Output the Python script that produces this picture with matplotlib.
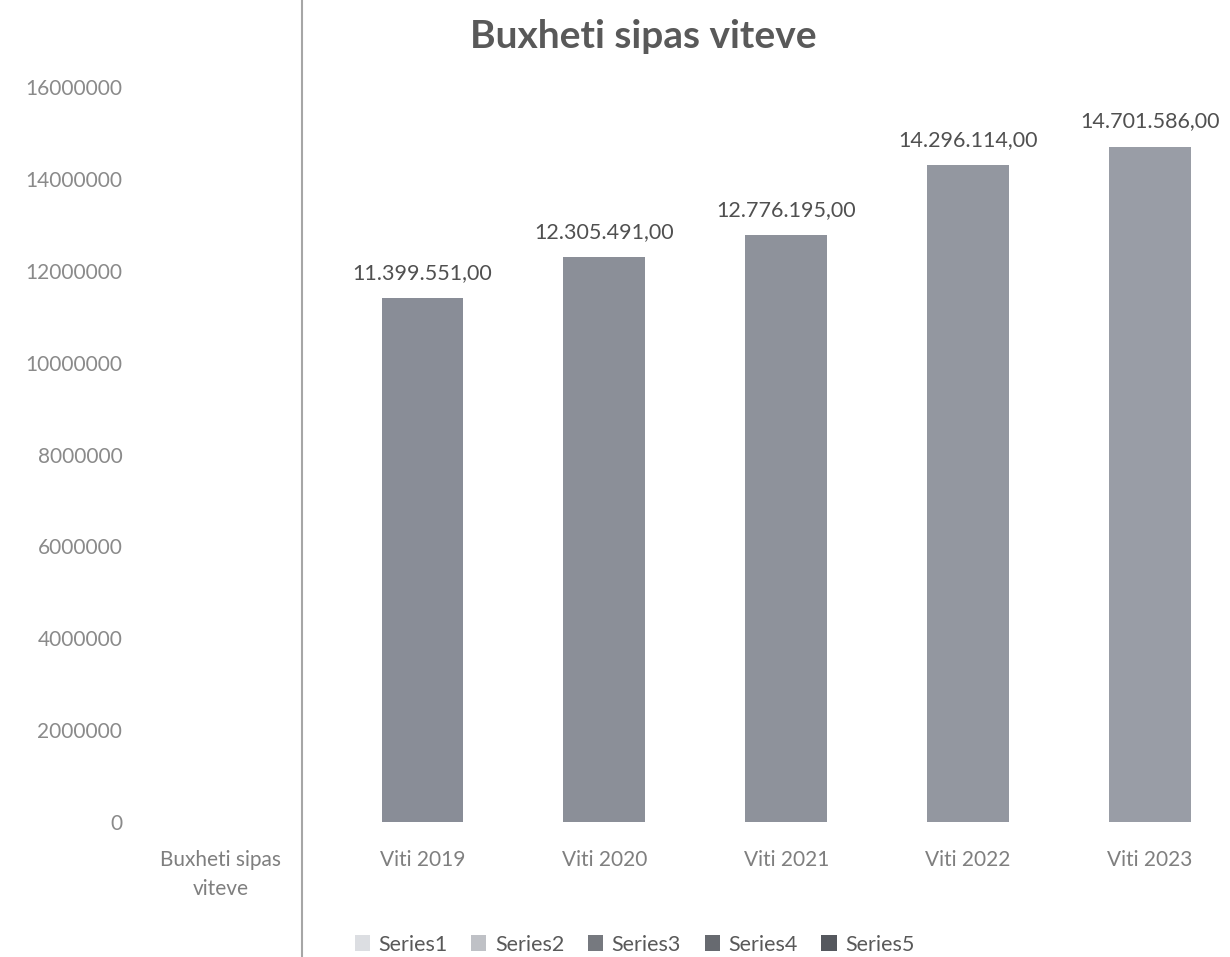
import matplotlib.pyplot as plt
import matplotlib.transforms as mtransforms
from matplotlib.patches import Patch
from matplotlib.lines import Line2D

# data
categories = ['Buxheti sipas\nviteve', 'Viti 2019', 'Viti 2020', 'Viti 2021', 'Viti 2022', 'Viti 2023']
series_names = ['Series1', 'Series2', 'Series3', 'Series4', 'Series5']
budget = [11399551, 12305491, 12776195, 14296114, 14701586]
yticks = [0, 2000000, 4000000, 6000000, 8000000, 10000000, 12000000, 14000000, 16000000]

bar_colors = ['#898d97', '#8b8f98', '#8e929b', '#9397a0', '#999da6']
legend_colors = ['#dcdee2', '#bfc1c6', '#76797f', '#676a70', '#55585e']

plt.rcParams['font.family'] = ['Lato', 'DejaVu Sans']

fig = plt.figure(figsize=(12.3, 9.57), dpi=100)
ax = fig.add_axes([0.104, 0.141, 0.896, 0.768])

# each series holds the budget of one year
for i, name in enumerate(series_names):
    ax.bar(i + 1, budget[i], width=0.45, color=bar_colors[i], label=name, zorder=2)
    lbl = '{:,.2f}'.format(budget[i]).replace(',', ' ').replace('.', ',').replace(' ', '.')
    ax.text(i + 1, budget[i] + 330000, lbl, ha='center', va='bottom',
            fontsize=15.5, color='#505050')

ax.set_xlim(-0.62, 5.44)
ax.set_ylim(0, 16000000)
ax.set_xticks(range(len(categories)))
ax.set_xticklabels(categories, fontsize=15, color='#7f7f7f', linespacing=1.55)
ax.set_yticks(yticks)
ax.set_yticklabels([str(v) for v in yticks], fontsize=15, color='#8a8a8a')
ax.tick_params(axis='x', length=0, pad=20)
ax.tick_params(axis='y', length=0, pad=4)
for spine in ['top', 'bottom', 'left', 'right']:
    ax.spines[spine].set_visible(False)

# first category label sits a bit to the left of the axis line
first = ax.get_xticklabels()[0]
first.set_transform(first.get_transform() + mtransforms.ScaledTranslation(-0.2, 0, fig.dpi_scale_trans))

# vertical axis line between the first two categories
fig.add_artist(Line2D([302 / 1230, 302 / 1230], [0, 1], color='#a6a6a6', linewidth=1.5))

fig.text(0.523, 0.962, 'Buxheti sipas viteve', ha='center', va='center',
         fontsize=28, fontweight='bold', color='#595959')

handles = [Patch(facecolor=c) for c in legend_colors]
fig.legend(handles, series_names, loc='center', bbox_to_anchor=(0.516, 0.013),
           ncol=5, frameon=False, fontsize=15.5, handlelength=0.7, handleheight=0.7,
           columnspacing=1.1, handletextpad=0.4, labelcolor='#595959')

plt.savefig('out.png', dpi=100)
